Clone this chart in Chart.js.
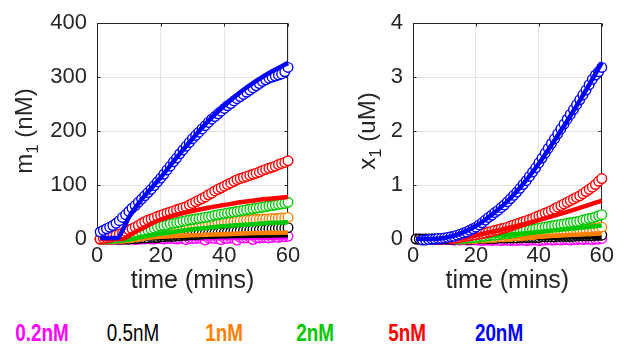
<!DOCTYPE html>
<html><head><meta charset="utf-8">
<script src="https://cdn.jsdelivr.net/npm/chart.js@4.4.0/dist/chart.umd.min.js"></script>
<style>
body{margin:0;background:#fff;width:618px;height:349px;overflow:hidden;position:relative}
#c1{position:absolute;left:0;top:0}
#c2{position:absolute;left:310px;top:0}
.lg{position:absolute;top:322px;line-height:23px;font-family:"Liberation Sans",Arial,sans-serif;font-size:23px;transform:translateX(-50%) scaleX(0.82);white-space:nowrap}
</style></head><body>
<canvas id="c1" width="305" height="300"></canvas>
<canvas id="c2" width="308" height="300"></canvas>
<div id="legend"></div>
<script>
// ---------- categories / labels ----------
const concentrations = ["0.2nM","0.5nM","1nM","2nM","5nM","20nM"];
const seriesColors = ["#ff00ff","#000000","#ff8000","#00c800","#ff0000","#0000ff"];
const xTicks = [0,20,40,60];
const yTicksLeft = [0,100,200,300,400];
const yTicksRight = [0,1,2,3,4];

// measurement times (mins)
const timeData = [1,2,3,4,5,6,7,8,9,10,11,12,13,14,15,16,17,18,19,20,21,22,23,24,25,26,27,28,29,30,31,32,33,34,35,36,37,38,39,40,41,42,43,44,45,46,47,48,49,50,51,52,53,54,55,56,57,58,59,60];

// ---------- left panel: m1 (nM), measured ----------
const m1_02 = [0,0,0,-1,0,0,-1,0,0,0,0,-1,0,0,0,1,0,0,1,1,0,1,1,1,0,1,1,-1,1,1,1,2,1,-2,2,2,1,2,-1,2,1,2,2,-2,3,2,2,3,-1,3,2,3,3,2,3,4,3,4,4,5];
const m1_05 = [0,0,0,0,0,0,0,0,0,0,1,1,1,2,2,2,3,3,3,4,4,5,5,5,6,6,7,7,8,8,8,9,9,10,10,10,11,11,12,12,13,13,14,14,15,15,16,16,17,17,17,18,18,19,19,19,20,20,20,21];
const m1_1  = [0,0,0,0,0,1,1,1,2,2,3,4,5,6,7,8,9,10,11,12,13,14,15,17,18,19,21,22,23,25,26,26,27,28,28,29,29,30,30,31,31,32,32,33,34,34,35,35,36,36,36,37,37,37,38,38,38,39,39,40];
const m1_2  = [1,1,1,1,2,2,3,3,4,5,6,8,10,12,14,16,18,20,22,24,25,26,28,29,30,31,33,34,35,36,37,38,39,40,41,42,44,45,46,47,48,49,50,51,52,53,54,55,56,57,58,59,60,61,62,63,64,65,66,68];
const m1_5  = [0,1,2,3,5,7,9,11,14,17,19,22,25,29,32,35,37,39,42,44,46,48,50,52,54,56,58,60,63,66,69,72,75,78,82,85,89,92,95,98,101,104,107,110,112,114,116,118,120,122,124,127,129,131,133,135,138,140,142,145];
const m1_20 = [13,16,19,22,25,29,34,40,45,51,57,62,68,74,80,86,92,99,106,113,120,128,135,143,150,158,165,172,179,186,192,198,204,210,216,222,227,232,237,242,247,251,256,260,264,268,272,276,280,284,288,292,295,298,300,302,304,306,310,318];

// left panel: model
const m1fit_02_t = [1,10,60];                     const m1fit_02 = [0,0,3];
const m1fit_05_t = [1,10,20,30,40,50,60];         const m1fit_05 = [0,0,2,4,5,6,7];
const m1fit_1_t  = [1,10,15,20,30,40,50,60];      const m1fit_1  = [0,0,2,4,7,9,11,12];
const m1fit_2_t  = [1,10,15,20,25,30,35,40,45,50,55,60]; const m1fit_2 = [0,0,5,10,14,18,21,24,26,28,30,31];
const m1fit_5_t  = [1,8,10,12,15,18,20,25,30,35,40,45,50,55,60]; const m1fit_5 = [0,0,6,13,22,31,36,45,52,58,63,68,72,75,78];
const m1fit_20_t = [1,6.5,8,10,12,15,20,25,30,35,40,45,50,55,60]; const m1fit_20 = [2,2,16,40,58,80,114,151,186,219,247,272,293,311,326];

// ---------- right panel: x1 (uM), measured ----------
const x1_02 = [0,0,-0.01,0,-0.01,-0.01,0,-0.01,-0.01,0,-0.01,-0.01,-0.02,-0.01,-0.02,-0.01,-0.02,-0.02,-0.01,-0.02,-0.02,-0.03,-0.02,-0.02,-0.03,-0.02,-0.02,-0.03,-0.02,-0.02,-0.03,-0.02,-0.03,-0.02,-0.02,-0.03,-0.02,-0.02,-0.02,-0.03,-0.02,-0.02,-0.01,-0.02,-0.02,-0.01,-0.02,-0.01,-0.01,-0.02,-0.01,-0.01,0,-0.01,0,0,-0.01,0,0,0.01];
const x1_05 = [0,0,0,0,0,0,0,0,0,0,0,0,0,0,0,0,0,0,0,0.01,0.01,0.01,0.01,0.01,0.01,0.01,0.02,0.02,0.02,0.02,0.02,0.02,0.02,0.03,0.03,0.03,0.03,0.03,0.03,0.03,0.04,0.04,0.04,0.04,0.04,0.05,0.05,0.05,0.05,0.05,0.05,0.06,0.06,0.06,0.06,0.06,0.06,0.07,0.07,0.07];
const x1_1  = [null,null,null,null,null,null,null,null,null,null,null,null,null,null,0,0,0.01,0.01,0.01,0.01,0.02,0.02,0.02,0.03,0.03,0.03,0.04,0.04,0.04,0.05,0.05,0.06,0.06,0.06,0.07,0.07,0.08,0.08,0.09,0.1,0.1,0.11,0.11,0.12,0.12,0.13,0.13,0.14,0.14,0.15,0.15,0.16,0.16,0.17,0.18,0.18,0.19,0.2,0.21,0.22];
const x1_2  = [null,null,null,null,null,null,null,null,null,null,null,null,null,0,0.01,0.01,0.02,0.02,0.03,0.03,0.04,0.05,0.05,0.06,0.07,0.07,0.08,0.09,0.1,0.1,0.11,0.12,0.13,0.14,0.15,0.16,0.17,0.18,0.19,0.2,0.21,0.22,0.23,0.24,0.25,0.26,0.27,0.28,0.29,0.3,0.31,0.32,0.33,0.35,0.36,0.38,0.39,0.41,0.43,0.45];
const x1_5  = [null,null,null,null,null,null,null,null,null,null,null,0.01,0.01,0.02,0.03,0.04,0.05,0.06,0.07,0.08,0.09,0.1,0.11,0.13,0.14,0.16,0.17,0.19,0.2,0.22,0.24,0.26,0.28,0.3,0.32,0.34,0.36,0.38,0.41,0.43,0.45,0.48,0.5,0.53,0.56,0.59,0.62,0.65,0.68,0.71,0.74,0.77,0.8,0.84,0.88,0.92,0.96,1.01,1.07,1.12];
const x1_20 = [null,null,-0.02,-0.02,-0.01,0,0,0.01,0.01,0.02,0.03,0.04,0.05,0.07,0.09,0.11,0.13,0.16,0.19,0.22,0.26,0.3,0.35,0.4,0.44,0.49,0.53,0.58,0.63,0.69,0.75,0.81,0.87,0.94,1.01,1.08,1.16,1.24,1.32,1.41,1.5,1.59,1.68,1.77,1.86,1.95,2.04,2.13,2.22,2.31,2.4,2.49,2.58,2.67,2.76,2.86,2.96,3.04,3.1,3.18];

// right panel: model
const x1fit_02_t = [1,12,60];              const x1fit_02 = [0,0,0.01];
const x1fit_05_t = [1,12,30,45,60];        const x1fit_05 = [0,0,0.01,0.025,0.04];
const x1fit_1_t  = [1,12,15,30,45,60];     const x1fit_1  = [0,0,0,0.03,0.06,0.1];
const x1fit_2_t  = [1,12,15,30,40,50,60];  const x1fit_2  = [0,0,0.01,0.08,0.13,0.19,0.25];
const x1fit_5_t  = [1,12,15,20,30,40,50,60]; const x1fit_5 = [0,0,0.01,0.07,0.2,0.35,0.52,0.71];
const x1fit_20_t = [1,5,10,15,20,25,30,35,40,45,50,55,60]; const x1fit_20 = [0,0,0.02,0.1,0.24,0.45,0.7,1.02,1.4,1.83,2.28,2.76,3.27];

// ---------- build ----------
const FONT = '"Liberation Sans", Arial, Helvetica, sans-serif';
const pts = (t, v) => t.map((x, i) => ({x: x, y: v[i] === undefined ? null : v[i]}));

function buildDatasets(measured, fits) {
  const ds = [];
  // blue (index 5) drawn on top -> first in list
  for (let k = 5; k >= 0; k--) {
    ds.push({type:'line', data: pts(fits[k][0], fits[k][1]), borderColor: seriesColors[k], borderWidth: 4.5,
      pointRadius: 0, fill: false, cubicInterpolationMode: 'monotone', clip: 8, borderCapStyle:'butt'});
    ds.push({type:'scatter', data: pts(timeData, measured[k]), borderColor: seriesColors[k], backgroundColor: '#ffffff',
      pointRadius: 4.8, pointBorderWidth: 1.4, showLine: false, clip: 8});
  }
  return ds;
}

const boxPlugin = {
  id: 'box',
  beforeDatasetsDraw(chart) {
    const {ctx, chartArea: a, scales: {x, y}} = chart;
    ctx.save();
    ctx.strokeStyle = '#262626'; ctx.lineWidth = 1;
    const L = Math.round(a.left) + 0.5, R = Math.round(a.right) - 0.5, T = Math.round(a.top) + 0.5, B = Math.round(a.bottom) - 0.5;
    ctx.strokeRect(L, T, R - L, B - T);
    ctx.beginPath();
    x.ticks.forEach(t => { const p = Math.round(x.getPixelForValue(t.value)) + 0.5;
      ctx.moveTo(p, B); ctx.lineTo(p, B - 3); ctx.moveTo(p, T); ctx.lineTo(p, T + 3); });
    y.ticks.forEach(t => { const p = Math.round(y.getPixelForValue(t.value)) + 0.5;
      ctx.moveTo(L, p); ctx.lineTo(L + 3, p); ctx.moveTo(R, p); ctx.lineTo(R - 3, p); });
    ctx.stroke();
    ctx.restore();
  }
};

const yTitlePlugin = {
  id: 'ytitle',
  afterDraw(chart, args, o) {
    const ctx = chart.ctx, a = chart.chartArea;
    ctx.save();
    ctx.translate(o.x, (a.top + a.bottom) / 2);
    ctx.rotate(-Math.PI / 2);
    ctx.fillStyle = '#262626'; ctx.textBaseline = 'alphabetic'; ctx.textAlign = 'left';
    const big = '24px ' + FONT, small = '17px ' + FONT;
    ctx.font = big; const w1 = ctx.measureText(o.main).width, w3 = ctx.measureText(o.rest).width;
    ctx.font = small; const w2 = ctx.measureText(o.sub).width;
    let px = -(w1 + w2 + w3) / 2;
    ctx.font = big; ctx.fillText(o.main, px, 0); px += w1;
    ctx.font = small; ctx.fillText(o.sub, px, 6); px += w2;
    ctx.font = big; ctx.fillText(o.rest, px, 0);
    ctx.restore();
  }
};

function makeChart(id, measured, fits, yMax, yTicks, yAxisWidth, padRight, titleX, main, sub, rest) {
  return new Chart(document.getElementById(id), {
    type: 'scatter',
    data: { datasets: buildDatasets(measured, fits) },
    plugins: [boxPlugin, yTitlePlugin],
    options: {
      responsive: false, animation: false, devicePixelRatio: 1, events: [],
      layout: { padding: { top: 19, right: padRight, left: 0, bottom: 0 } },
      plugins: { legend: { display: false }, tooltip: { enabled: false },
        ytitle: { x: titleX, main: main, sub: sub, rest: rest } },
      scales: {
        x: { type: 'linear', min: 0, max: 60,
          afterBuildTicks: s => { s.ticks = xTicks.map(v => ({value: v})); },
          ticks: { color: '#262626', font: { family: FONT, size: 22 }, padding: 4, maxRotation: 0 },
          grid: { color: '#e3e3e3', drawTicks: false }, border: { display: false },
          title: { display: true, text: 'time (mins)', color: '#262626',
            font: { family: FONT, size: 25 }, padding: { top: 0, bottom: 4 } },
          afterFit: s => { s.height = 61; } },
        y: { type: 'linear', min: 0, max: yMax,
          afterBuildTicks: s => { s.ticks = yTicks.map(v => ({value: v})); },
          ticks: { color: '#262626', font: { family: FONT, size: 22 }, padding: 10 },
          grid: { color: '#e3e3e3', drawTicks: false }, border: { display: false },
          afterFit: s => { s.width = yAxisWidth; } }
      }
    }
  });
}

makeChart('c1', [m1_02, m1_05, m1_1, m1_2, m1_5, m1_20],
  [[m1fit_02_t, m1fit_02], [m1fit_05_t, m1fit_05], [m1fit_1_t, m1fit_1], [m1fit_2_t, m1fit_2], [m1fit_5_t, m1fit_5], [m1fit_20_t, m1fit_20]],
  400, yTicksLeft, 97, 17, 32, 'm', '1', ' (nM)');
makeChart('c2', [x1_02, x1_05, x1_1, x1_2, x1_5, x1_20],
  [[x1fit_02_t, x1fit_02], [x1fit_05_t, x1fit_05], [x1fit_1_t, x1fit_1], [x1fit_2_t, x1fit_2], [x1fit_5_t, x1fit_5], [x1fit_20_t, x1fit_20]],
  4, yTicksRight, 103, 13, 65, 'x', '1', ' (uM)');

// legend text
const legendCenters = [41.5, 132.5, 224, 315, 407, 498.5];
const legendBold = [true, false, true, true, true, true];
const lg = document.getElementById('legend');
concentrations.forEach((c, i) => {
  const s = document.createElement('span');
  s.className = 'lg'; s.textContent = c; s.style.color = seriesColors[i];
  s.style.fontWeight = legendBold[i] ? 'bold' : 'normal';
  s.style.left = legendCenters[i] + 'px';
  lg.appendChild(s);
});
</script>
</body></html>
